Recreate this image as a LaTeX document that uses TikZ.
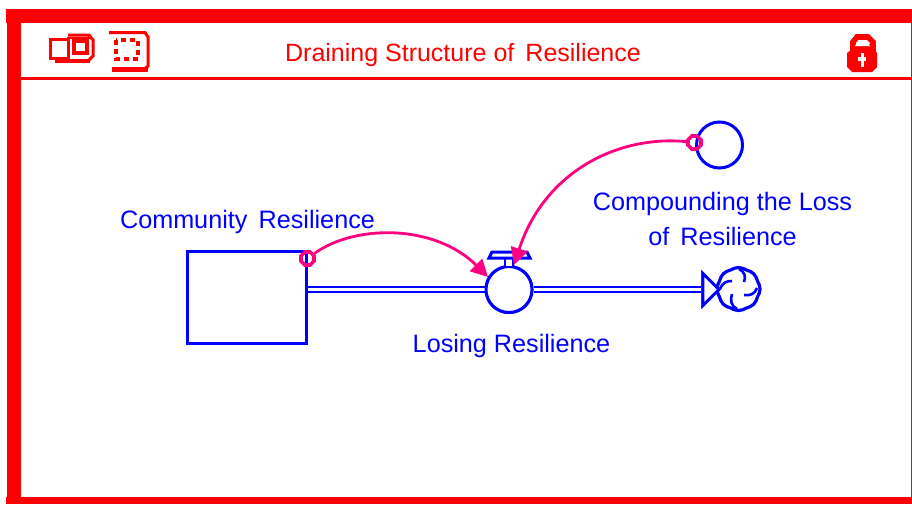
\documentclass[tikz,border=0pt]{standalone}
\usepackage{fontspec}
\setmainfont{Liberation Sans}
\usetikzlibrary{arrows.meta,shapes.geometric,shapes.symbols}
\definecolor{linkpink}{RGB}{255,0,128}

\begin{document}
\begin{tikzpicture}[x=1pt, y=-1pt, align=center,
	stockbox/.style = {draw = blue, line width = 3pt, minimum width = 119pt, minimum height = 92pt, inner sep = 0pt},
	valve/.style = {draw = blue, line width = 3pt, circle, fill = white, minimum size = 46pt, inner sep = 0pt},
	aux/.style = {draw = blue, line width = 3pt, circle, minimum size = 46pt, inner sep = 0pt},
	flowhead/.style = {draw = blue, line width = 2.8pt, isosceles triangle, isosceles triangle apex angle = 90, fill = white, minimum height = 16pt, inner sep = 0pt},
	sinkcloud/.style = {draw = blue, line width = 3.2pt, cloud, cloud puffs = 8, cloud puff arc = 70, minimum size = 43pt, inner sep = 0pt},
	flowline/.style = {draw = blue, double = white, double distance = 2.6pt, line width = 2.6pt},
	link/.style = {draw = linkpink, line width = 2.8pt, -{Triangle[length=17pt, width=17pt]}},
	linkdot/.style = {draw = linkpink, line width = 3.6pt, regular polygon, regular polygon sides = 8, minimum size = 14pt, inner sep = 0pt},
	label/.style = {text = blue, font = \fontsize{25.2}{35}\selectfont},
	title/.style = {text = red, font = \fontsize{25}{28}\selectfont},
	frame/.style = {fill = red, draw = none}]
	\useasboundingbox (0,0) rectangle (912,504);
	\fill[white] (0,0) rectangle (912,504);
	% frame
	\fill[frame] (6,9) rectangle (912,23);
	\fill[frame] (7,23) rectangle (21,498);
	\fill[frame] (6,497) rectangle (912,504);
	\fill[frame] (911,23) rectangle (912,497);
	\fill[frame] (21,77) rectangle (911,80);
	% header
	\node[title] (head) at (463,55.5) {Draining Structure of\, Resilience};
	\draw[red, line width = 3pt] (50.5,39.5) rectangle (68,58.5);
	\draw[red, line width = 3pt] (68,35) -- (89,35) -- (93,40) -- (93,56) -- (89,60);
	\fill[red] (55,59) rectangle (90,63);
	\draw[red, line width = 3pt] (68,37) -- (68,56);
	\draw[red, line width = 3.4pt] (74,41) rectangle (87,53);
	\draw[red, line width = 2pt] (70,37.5) -- (90,37.5);
	\draw[red, line width = 3pt] (109,32.5) -- (145,32.5) -- (148,37) -- (148,66) -- (144,69.5) -- (112,69.5);
	\fill[red] (112,67) rectangle (148,72);
	\draw[red, line width = 3.4pt, dash pattern = on 5pt off 4pt] (116,40) rectangle (138,59);
	% lock
	\draw[red, line width = 5.6pt] (853,52) -- (853,42) -- (857,37) -- (868,37) -- (873,42) -- (873,52);
	\fill[red] (847,53) -- (851,50) -- (874,50) -- (877,53) -- (877,67) -- (872,72) -- (852,72) -- (847,67) -- cycle;
	\fill[red] (855,44) rectangle (871,51);
	\fill[white] (855,46) -- (858,41) -- (867,41) -- (870,46) -- cycle;
	\fill[white] (860.5,53) rectangle (863.5,67);
	\fill[white] (858,57) rectangle (866,61);
	% model
	\node[stockbox] (stock) at (246.5,297) {};
	\node[valve] (losing) at (509,289.5) {};
	\node[aux] (compound) at (719.5,145) {};
	\node[sinkcloud] (sink) at (738.5,289) {};
	\node[flowhead] (head1) at (709.5,289.5) {};
	\draw[flowline] (stock.east |- losing) -- (losing);
	\draw[flowline] (losing) -- (head1.west);
	\node[valve] at (losing) {};
	\node[flowhead] at (head1) {};
	% valve handle
	\fill[white] (505,258) rectangle (513,266);
	\draw[blue, line width = 2.6pt] (505,258) -- (505,266);
	\draw[blue, line width = 2.6pt] (513,258) -- (513,266);
	\draw[blue, line width = 3pt] (492,252) -- (527,252) -- (530,258) -- (489,258) -- cycle;
	% swirl in the cloud
	\draw[blue, line width = 2.6pt] (720,289) .. controls (723,282) and (727,281) .. (732,281);
	\draw[blue, line width = 2.6pt] (739,269) .. controls (745,272) and (746,277) .. (744,282);
	\draw[blue, line width = 2.6pt] (757,288) .. controls (755,294) and (750,296) .. (744,295);
	\draw[blue, line width = 2.6pt] (737,309) .. controls (731,306) and (730,300) .. (732,294);
	% links
	\node[linkdot] (from1) at (307.5,258.5) {};
	\node[linkdot] (from2) at (694.5,142.5) {};
	\draw[link] (from1) .. controls (355,224) and (435,224) .. (488,277);
	\draw[link] (from2) .. controls (620,135) and (545,170) .. (514,265);
	% labels
	\node[label] (lstock) at (247.5,221.5) {Community\, Resilience};
	\node[label] (lcompound) at (722.5,219) {Compounding the Loss\\of\, Resilience};
	\node[label] (llosing) at (511.5,345.5) {Losing Resilience};
\end{tikzpicture}
\end{document}
